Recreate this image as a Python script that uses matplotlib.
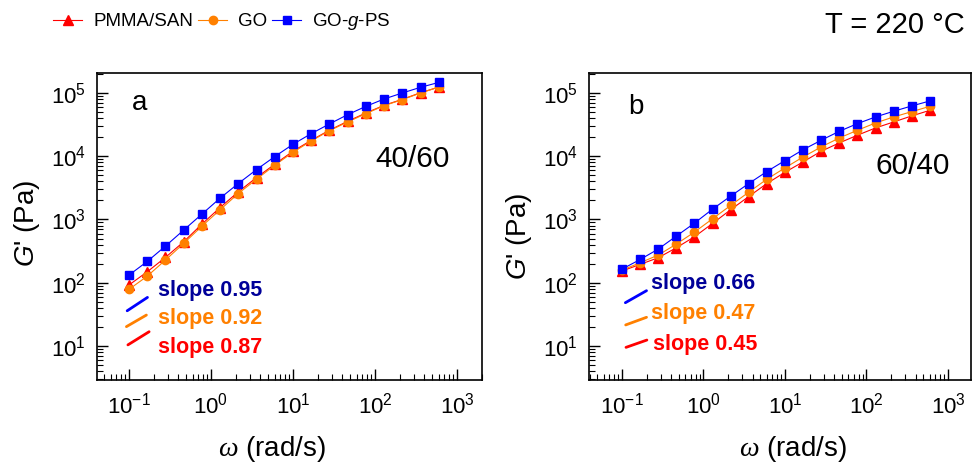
import numpy as np
import matplotlib
matplotlib.use("Agg")
import matplotlib.pyplot as plt
from matplotlib.lines import Line2D

plt.rcParams['font.family'] = ['Liberation Sans', 'DejaVu Sans']
plt.rcParams['mathtext.fontset'] = 'custom'
plt.rcParams['mathtext.rm'] = 'Liberation Sans'
plt.rcParams['mathtext.it'] = 'Liberation Sans:italic'
plt.rcParams['mathtext.sf'] = 'Liberation Serif:italic'

# angular frequency (rad/s)
omega = [0.1, 0.167, 0.278, 0.464, 0.774, 1.29, 2.15, 3.59, 5.99, 10,
         16.7, 27.8, 46.4, 77.4, 129, 215, 359, 599]

# panel a: 40/60
a_pmma = [92, 149, 251, 444, 843, 1545, 2735, 4600, 7480, 12000,
          17900, 25800, 35700, 48300, 63800, 79400, 101000, 124000]
a_go = [78.5, 127, 228, 418, 785, 1422, 2575, 4335, 7210, 11560,
        17460, 25400, 34800, 47200, 63100, 78500, 100000, 124000]
a_gps = [132, 217, 379, 679, 1214, 2172, 3700, 6150, 9880, 15450,
         22800, 32400, 45500, 61500, 80400, 100000, 123000, 147000]

# panel b: 60/40
b_pmma = [153, 195, 248, 357, 532, 865, 1422, 2307, 3700, 5580,
          8150, 12000, 16250, 21500, 28000, 34800, 43400, 53200]
b_go = [158, 207, 273, 408, 631, 1025, 1665, 2705, 4335, 6550,
        9750, 14040, 19450, 25750, 33600, 41800, 50700, 61500]
b_gps = [164, 233, 340, 546, 875, 1455, 2335, 3700, 5730, 8550,
         12700, 17900, 24800, 32800, 41800, 51400, 62400, 74800]

names = ['PMMA/SAN', 'GO', 'GO-$\\it{g}$-PS']
slopes_a = ['0.87', '0.92', '0.95']
slopes_b = ['0.45', '0.47', '0.66']

# slope guide segments (x0, x1, y0, y1) for pmma, go, gps
guide_a = [(0.097, 0.176, 10.4, 16.8), (0.093, 0.163, 20.2, 30.8), (0.095, 0.168, 36, 58.6)]
guide_b = [(0.112, 0.202, 9.5, 12.4), (0.111, 0.2, 21.5, 28.4), (0.11, 0.2, 48.3, 74.8)]

line_cols = ['#ff0000', '#ff8000', '#0000ff']
text_cols = ['#ff0000', '#ff8000', '#000099']
markers = ['^', 'o', 's']
msizes = [6.5, 6, 5.5]

fig = plt.figure(figsize=(9.74, 4.63), dpi=100)
ax_a = fig.add_axes([0.0996, 0.1793, 0.3953, 0.663])
ax_b = fig.add_axes([0.6047, 0.1793, 0.3922, 0.663])

panels = [
    (ax_a, [a_pmma, a_go, a_gps], guide_a, slopes_a, 'a', '40/60',
     (10**-1.39, 10**3.305), [(0.158, 0.107), (0.158, 0.199), (0.158, 0.293)],
     (0.091, 0.902), (0.722, 0.72), 0.455, 0.511),
    (ax_b, [b_pmma, b_go, b_gps], guide_b, slopes_b, 'b', '60/40',
     (10**-1.405, 10**3.282), [(0.167, 0.114), (0.162, 0.218), (0.162, 0.313)],
     (0.102, 0.889), (0.749, 0.697), 0.534, 0.469),
]

for ax, series, guides, slopes, tag, ratio, xl, slope_pos, tag_pos, ratio_pos, xlab_x, ylab_y in panels:
    for k in range(3):
        ax.plot(omega, series[k], color=line_cols[k], lw=0.8, marker=markers[k],
                ms=msizes[k], mec=line_cols[k], mfc=line_cols[k], zorder=3)
        g = guides[k]
        ax.plot([g[0], g[1]], [g[2], g[3]], color=line_cols[k], lw=2, solid_capstyle='round')
        ax.text(slope_pos[k][0], slope_pos[k][1], 'slope ' + slopes[k], color=text_cols[k],
                fontsize=15.5, fontweight='bold', transform=ax.transAxes, va='center', ha='left')
    ax.set_xscale('log')
    ax.set_yscale('log')
    ax.set_xlim(*xl)
    ax.set_ylim(10**0.462, 10**5.316)
    ax.set_xticks([0.1, 1, 10, 100, 1000])
    ax.set_yticks([10, 100, 1000, 1e4, 1e5])
    ax.tick_params(which='both', direction='in', top=False, right=False, labelsize=16)
    ax.tick_params(which='major', length=8, width=1)
    ax.tick_params(which='minor', length=4, width=0.8)
    ax.tick_params(axis='x', pad=9)
    ax.tick_params(axis='y', pad=8)
    for s in ax.spines.values():
        s.set_linewidth(1.2)
    ax.text(tag_pos[0], tag_pos[1], tag, fontsize=20, transform=ax.transAxes, va='center', ha='left')
    ax.text(ratio_pos[0], ratio_pos[1], ratio, fontsize=21.5, transform=ax.transAxes, va='center', ha='left')
    ax.set_xlabel(r'$\mathsf{\omega}$ (rad/s)', fontsize=20)
    ax.set_ylabel(r"$G$' (Pa)", fontsize=20)
    ax.xaxis.set_label_coords(xlab_x, -0.175)
    ax.yaxis.set_label_coords(-0.143, ylab_y)

handles = [Line2D([], [], color=line_cols[k], lw=0.8, marker=markers[k], ms=msizes[k])
           for k in range(3)]
fig.legend(handles, names, loc='center left', bbox_to_anchor=(0.0544, 0.953), ncol=3,
           frameon=False, borderpad=0, borderaxespad=0, handlelength=1.55,
           handletextpad=0.59, columnspacing=0.27, prop={'size': 13.5})

fig.text(0.847, 0.946, 'T = 220 \u00b0C', fontsize=21, va='center', ha='left')

fig.savefig('out.png', dpi=100)
